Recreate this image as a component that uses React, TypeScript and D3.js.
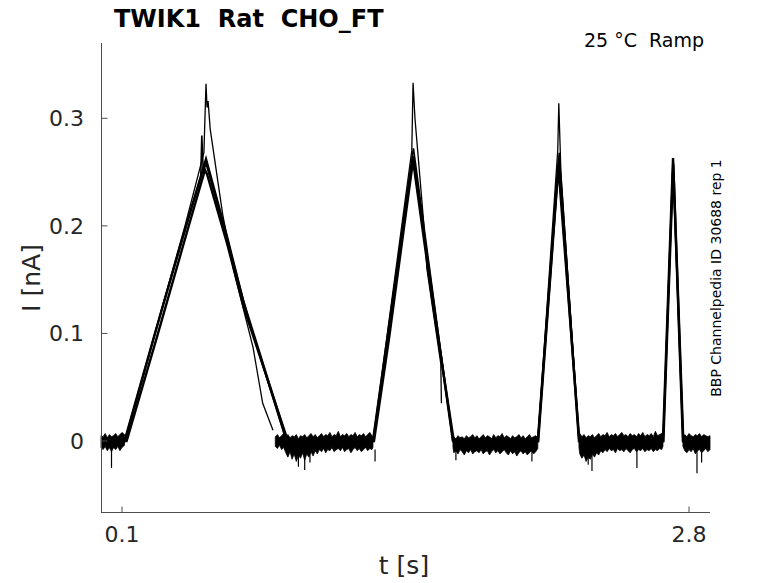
import * as d3 from 'd3';
import React from 'react';

type Pt = [number, number];

// [t (s), I (nA)] breakpoints, one array per sweep
const sweepA: Pt[] = [
  [0, 0], [0.112, 0], [0.257, 0.1], [0.405, 0.2], [0.5, 0.262], [0.6, 0.19], [0.676, 0.131], [0.886, 0],
  [1.295, 0], [1.367, 0.1], [1.486, 0.265], [1.58, 0.133], [1.676, 0],
  [2.08, 0], [2.18, 0.262], [2.276, 0],
  [2.676, 0], [2.724, 0.263], [2.771, 0], [2.9, 0],
];
const sweepB: Pt[] = [
  [0, 0], [0.122, 0], [0.267, 0.097], [0.415, 0.198], [0.495, 0.252], [0.505, 0.248], [0.6, 0.184], [0.68, 0.124], [0.89, 0],
  [1.3, 0], [1.372, 0.096], [1.484, 0.258], [1.49, 0.255], [1.58, 0.128], [1.68, 0],
  [2.082, 0], [2.178, 0.255], [2.278, 0],
  [2.678, 0], [2.725, 0.258], [2.773, 0], [2.9, 0],
];
const sweepD: Pt[] = [
  [0, 0], [0.116, 0], [0.3, 0.13], [0.475, 0.245], [0.48, 0.284], [0.487, 0.25], [0.5, 0.258], [0.6, 0.188], [0.7, 0.115], [0.882, 0],
  [1.298, 0], [1.48, 0.262], [1.488, 0.272], [1.675, 0],
  [2.08, 0], [2.182, 0.268], [2.277, 0],
  [2.677, 0], [2.724, 0.26], [2.772, 0], [2.9, 0],
];
// the odd sweep, which breaks off early on the falling ramps
const outlier1: Pt[] = [
  [0.112, 0], [0.4, 0.2], [0.49, 0.268], [0.5, 0.332], [0.505, 0.31], [0.51, 0.316], [0.52, 0.29],
  [0.58, 0.21], [0.63, 0.16], [0.724, 0.087], [0.77, 0.035], [0.819, 0.01],
];
const outlier2: Pt[] = [
  [1.295, 0], [1.48, 0.27], [1.486, 0.333], [1.495, 0.3], [1.538, 0.2], [1.552, 0.16], [1.618, 0.072], [1.621, 0.035],
];
const outlier3: Pt[] = [[2.08, 0], [2.175, 0.27], [2.18, 0.314], [2.19, 0.25], [2.276, 0]];

// baseline noise envelope: [t, low, high]
const noiseBand: [number, number, number][][] = [
  [
    [0, -0.006, 0.005], [0.01, -0.008, 0.004], [0.02, -0.005, 0.007], [0.03, -0.009, 0.003], [0.04, -0.006, 0.006],
    [0.05, -0.01, 0.004], [0.06, -0.006, 0.005], [0.07, -0.008, 0.007], [0.08, -0.005, 0.004], [0.09, -0.009, 0.006],
    [0.1, -0.006, 0.008], [0.112, -0.004, 0.006],
  ],
  [
    [0.83, -0.005, 0.004], [0.84, -0.007, 0.006], [0.85, -0.004, 0.003], [0.86, -0.008, 0.005], [0.87, -0.006, 0.007],
    [0.88, -0.011, 0.004], [0.89, -0.015, 0.006], [0.9, -0.01, 0.003], [0.91, -0.017, 0.005], [0.92, -0.012, 0.004],
    [0.93, -0.019, 0.006], [0.94, -0.013, 0.002], [0.95, -0.016, 0.005], [0.96, -0.011, 0.004], [0.97, -0.018, 0.006],
    [0.98, -0.012, 0.003], [0.99, -0.015, 0.005], [1.0, -0.01, 0.007], [1.01, -0.014, 0.004], [1.02, -0.009, 0.006],
    [1.03, -0.012, 0.003], [1.04, -0.008, 0.005], [1.05, -0.01, 0.007], [1.06, -0.007, 0.004], [1.07, -0.011, 0.006],
    [1.08, -0.008, 0.005], [1.09, -0.009, 0.008], [1.1, -0.006, 0.004], [1.11, -0.01, 0.006], [1.12, -0.008, 0.005],
    [1.13, -0.007, 0.009], [1.14, -0.009, 0.004], [1.15, -0.006, 0.006], [1.16, -0.01, 0.005], [1.17, -0.008, 0.007],
    [1.18, -0.007, 0.004], [1.19, -0.011, 0.006], [1.2, -0.008, 0.005], [1.21, -0.006, 0.008], [1.22, -0.009, 0.004],
    [1.23, -0.007, 0.006], [1.24, -0.01, 0.005], [1.25, -0.008, 0.007], [1.26, -0.006, 0.004], [1.27, -0.009, 0.006],
    [1.28, -0.007, 0.008], [1.29, -0.008, 0.005], [1.295, -0.006, 0.004],
  ],
  [
    [1.676, -0.006, 0.003], [1.68, -0.011, 0.004], [1.69, -0.009, 0.002], [1.7, -0.012, 0.005], [1.71, -0.008, 0.003],
    [1.72, -0.01, 0.004], [1.73, -0.013, 0.002], [1.74, -0.009, 0.005], [1.75, -0.011, 0.003], [1.76, -0.008, 0.004],
    [1.77, -0.012, 0.006], [1.78, -0.01, 0.003], [1.79, -0.009, 0.005], [1.8, -0.011, 0.002], [1.81, -0.008, 0.004],
    [1.82, -0.012, 0.006], [1.83, -0.01, 0.003], [1.84, -0.009, 0.005], [1.85, -0.013, 0.004], [1.86, -0.01, 0.002],
    [1.87, -0.008, 0.006], [1.88, -0.011, 0.003], [1.89, -0.009, 0.005], [1.9, -0.012, 0.004], [1.91, -0.01, 0.007],
    [1.92, -0.008, 0.003], [1.93, -0.011, 0.005], [1.94, -0.013, 0.004], [1.95, -0.009, 0.002], [1.96, -0.012, 0.005],
    [1.97, -0.01, 0.003], [1.98, -0.014, 0.004], [1.99, -0.011, 0.006], [2.0, -0.009, 0.003], [2.01, -0.012, 0.005],
    [2.02, -0.01, 0.002], [2.03, -0.013, 0.004], [2.04, -0.011, 0.006], [2.05, -0.009, 0.003], [2.06, -0.012, 0.004],
    [2.07, -0.01, 0.005], [2.08, -0.007, 0.003],
  ],
  [
    [2.276, -0.006, 0.005], [2.28, -0.012, 0.007], [2.29, -0.016, 0.004], [2.3, -0.013, 0.006], [2.31, -0.019, 0.003],
    [2.32, -0.015, 0.005], [2.33, -0.017, 0.004], [2.34, -0.012, 0.006], [2.35, -0.015, 0.003], [2.36, -0.011, 0.005],
    [2.37, -0.013, 0.007], [2.38, -0.009, 0.004], [2.39, -0.011, 0.006], [2.4, -0.008, 0.005], [2.41, -0.01, 0.008],
    [2.42, -0.007, 0.004], [2.43, -0.009, 0.006], [2.44, -0.008, 0.005], [2.45, -0.011, 0.007], [2.46, -0.007, 0.004],
    [2.47, -0.009, 0.006], [2.48, -0.008, 0.008], [2.49, -0.01, 0.005], [2.5, -0.007, 0.006], [2.51, -0.009, 0.004],
    [2.52, -0.011, 0.007], [2.53, -0.008, 0.005], [2.54, -0.007, 0.006], [2.55, -0.01, 0.004], [2.56, -0.008, 0.007],
    [2.57, -0.009, 0.005], [2.58, -0.007, 0.008], [2.59, -0.01, 0.004], [2.6, -0.008, 0.006], [2.61, -0.009, 0.005],
    [2.62, -0.007, 0.007], [2.63, -0.01, 0.004], [2.64, -0.008, 0.009], [2.65, -0.009, 0.005], [2.66, -0.007, 0.006],
    [2.67, -0.008, 0.007], [2.676, -0.005, 0.004],
  ],
  [
    [2.771, -0.005, 0.004], [2.78, -0.009, 0.006], [2.79, -0.011, 0.004], [2.8, -0.008, 0.007], [2.81, -0.01, 0.005],
    [2.82, -0.007, 0.004], [2.83, -0.012, 0.006], [2.84, -0.009, 0.005], [2.85, -0.008, 0.007], [2.86, -0.011, 0.004],
    [2.87, -0.009, 0.006], [2.88, -0.007, 0.005], [2.89, -0.01, 0.004], [2.9, -0.008, 0.005],
  ],
];

// downward glitches: [t, I]
const spikes: Pt[] = [
  [0.05, -0.025], [0.94, -0.024], [0.97, -0.027], [0.995, -0.02], [1.305, -0.019], [1.69, -0.018],
  [2.052, -0.019], [2.32, -0.022], [2.338, -0.028], [2.552, -0.025], [2.838, -0.03], [2.86, -0.02],
];

const xTicks = [0.1, 2.8];
const yTicks = [0, 0.1, 0.2, 0.3];

const W = 778;
const H = 583;
const font = 'DejaVu Sans, sans-serif';

export default function App() {
  const x = d3.scaleLinear().domain([0, 2.9]).range([101, 710]);
  const y = d3.scaleLinear().domain([-0.066, 0.37]).range([512, 43]);

  const line = d3.line<Pt>().x((d) => x(d[0])).y((d) => y(d[1]));
  const area = d3
    .area<[number, number, number]>()
    .x((d) => x(d[0]))
    .y0((d) => y(d[1]))
    .y1((d) => y(d[2]));

  const axisColor = '#4d4d4d';
  const labelColor = '#262626';

  return (
    <svg width={W} height={H} style={{ position: 'absolute', left: 0, top: 0, background: '#fff' }}>
      <text x={114} y={27} fontFamily={font} fontWeight="bold" fontSize={24} fill="#000" style={{ whiteSpace: 'pre' }}>
        {'TWIK1  Rat  CHO_FT'}
      </text>
      <text x={704} y={47} textAnchor="end" fontFamily={font} fontSize={19} fill="#000" style={{ whiteSpace: 'pre' }}>
        {'25 °C  Ramp'}
      </text>
      <text transform="translate(721,278) rotate(-90)" textAnchor="middle" fontFamily={font} fontSize={14} fill="#000">
        BBP Channelpedia ID 30688 rep 1
      </text>

      {/* traces */}
      {noiseBand.map((seg, i) => (
        <path key={'n' + i} d={area(seg) || ''} fill="#000" stroke="#000" strokeWidth={0.8} strokeLinejoin="miter" />
      ))}
      {spikes.map((s, i) => (
        <line key={'s' + i} x1={x(s[0])} x2={x(s[0])} y1={y(-0.008)} y2={y(s[1])} stroke="#000" strokeWidth={1.2} />
      ))}
      {[sweepA, sweepB].map((s, i) => (
        <path key={'m' + i} d={line(s) || ''} fill="none" stroke="#000" strokeWidth={2.4} />
      ))}
      <path d={line(sweepD) || ''} fill="none" stroke="#000" strokeWidth={1.6} />
      {[outlier1, outlier2, outlier3].map((s, i) => (
        <path key={'o' + i} d={line(s) || ''} fill="none" stroke="#000" strokeWidth={1.3} />
      ))}

      {/* axes */}
      <line x1={101.5} x2={101.5} y1={43} y2={512.5} stroke={axisColor} strokeWidth={1} />
      <line x1={101} x2={710} y1={512.5} y2={512.5} stroke={axisColor} strokeWidth={1} />
      {yTicks.map((t) => (
        <g key={'y' + t}>
          <line x1={101.5} x2={107.5} y1={y(t)} y2={y(t)} stroke={axisColor} />
          <text x={84} y={y(t) + 8} textAnchor="end" fontFamily={font} fontSize={22} fill={labelColor}>
            {String(t)}
          </text>
        </g>
      ))}
      {xTicks.map((t) => (
        <g key={'x' + t}>
          <line x1={x(t)} x2={x(t)} y1={512.5} y2={506.5} stroke={axisColor} />
          <text x={x(t)} y={542} textAnchor="middle" fontFamily={font} fontSize={22} fill={labelColor}>
            {String(t)}
          </text>
        </g>
      ))}
      <text x={404} y={574} textAnchor="middle" fontFamily={font} fontSize={25} fill={labelColor}>
        t [s]
      </text>
      <text transform="translate(40,278) rotate(-90)" textAnchor="middle" fontFamily={font} fontSize={25} fill={labelColor}>
        I [nA]
      </text>
    </svg>
  );
}
